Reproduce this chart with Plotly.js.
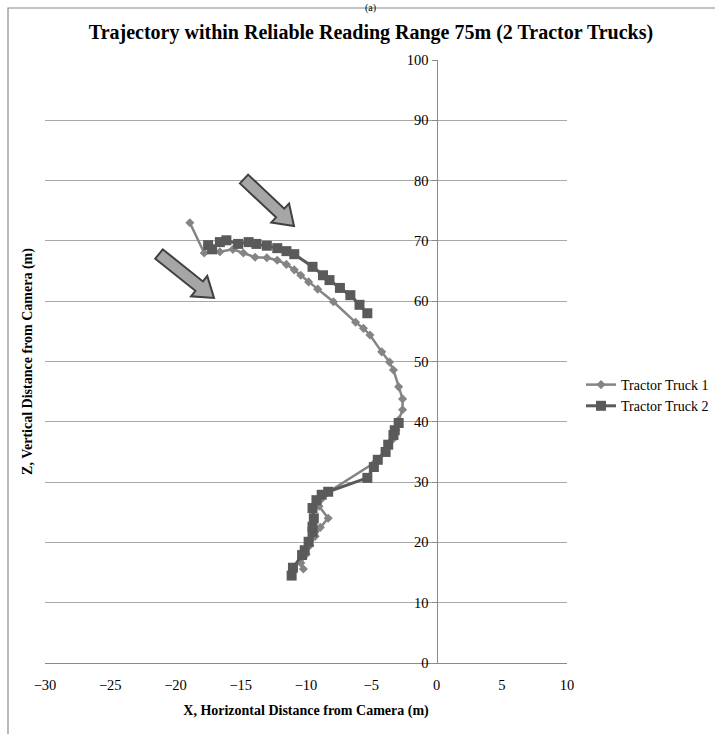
<!DOCTYPE html>
<html><head><meta charset="utf-8">
<script src="https://cdn.plot.ly/plotly-3.0.1.min.js"></script>
<style>html,body{margin:0;padding:0;background:#fff}#chart{width:715px;height:734px}</style>
</head><body><div id="chart"></div>
<script>
// ---- data ----
const seriesNames = ['Tractor Truck 1', 'Tractor Truck 2'];
const truck1X = [-18.9,-17.8,-16.6,-15.6,-14.8,-13.9,-13.0,-12.2,-11.5,-10.9,-10.4,-9.8,-9.1,-7.9,-6.2,-5.6,-5.1,-4.2,-3.6,-3.3,-2.9,-2.6,-2.6,-2.9,-3.1,-3.4,-3.9,-4.7,-8.4,-8.9,-9.0,-8.3,-8.9,-9.3,-9.7,-10.0,-10.4,-10.2];
const truck1Z = [73.0,68.0,68.2,68.6,68.0,67.3,67.2,66.8,66.1,65.2,64.3,63.2,62.0,59.9,56.5,55.5,54.4,51.6,49.9,48.6,45.8,43.8,42.0,40.3,38.6,37.0,35.4,33.3,28.2,27.0,26.0,24.0,22.5,21.0,19.5,18.0,16.6,15.6];
const truck2X = [-17.5,-17.2,-16.6,-16.1,-15.2,-14.4,-13.8,-13.0,-12.2,-11.5,-10.9,-9.5,-8.7,-8.2,-7.4,-6.6,-5.9,-5.3,null,-2.9,-3.2,-3.3,-3.7,-3.9,-4.5,-4.8,-5.3,-8.3,-8.8,-9.2,-9.5,-9.4,-9.5,-9.5,-9.8,-10.1,-10.3,-11.0,-11.1];
const truck2Z = [69.3,68.6,69.8,70.1,69.5,69.8,69.5,69.2,68.8,68.3,67.8,65.7,64.3,63.5,62.2,61.0,59.4,58.0,null,39.8,38.6,37.8,36.2,35.0,33.7,32.5,30.7,28.4,27.9,27.0,25.7,24.0,22.6,21.7,20.1,18.7,17.9,15.8,14.5];
const xTickVals = [-30,-25,-20,-15,-10,-5,0,5,10];
const zTickVals = [0,10,20,30,40,50,60,70,80,90,100];

// ---- layout geometry (pixels) ----
const W = 715, H = 734, PL = 45, PR = 567, PT = 60, PB = 663;
const px2paperX = p => (p - PL) / (PR - PL);
const px2paperY = p => (PB - p) / (PB - PT);
const xRange = [-30, 10];
const yAxisPos = (0 - xRange[0]) / (xRange[1] - xRange[0]);

// decorative block arrows (pixel geometry)
const arrowSpecs = [
  {tail: [244, 179], tip: [294, 226]},
  {tail: [159, 254], tip: [214, 298]}
];
function arrowPath(a) {
  const [tx, ty] = a.tail, [qx, qy] = a.tip;
  const dx = qx - tx, dy = qy - ty, len = Math.hypot(dx, dy);
  const ux = dx / len, uy = dy / len, nx = -uy, ny = ux;
  const w = 6, h = 13, L = 19;
  const bx = qx - ux * L, by = qy - uy * L;
  const pts = [
    [tx + nx * w, ty + ny * w], [bx + nx * w, by + ny * w], [bx + nx * h, by + ny * h],
    [qx, qy], [bx - nx * h, by - ny * h], [bx - nx * w, by - ny * w], [tx - nx * w, ty - ny * w]
  ];
  return 'M' + pts.map(p => px2paperX(p[0]).toFixed(5) + ',' + px2paperY(p[1]).toFixed(5)).join(' L') + ' Z';
}

const serif = 'Liberation Serif, Times New Roman, serif';

const traces = [
  {x: truck1X, y: truck1Z, name: seriesNames[0], type: 'scatter', mode: 'lines+markers',
   line: {color: '#848484', width: 2.5}, marker: {symbol: 'diamond', size: 7, color: '#848484'},
   connectgaps: false},
  {x: truck2X, y: truck2Z, name: seriesNames[1], type: 'scatter', mode: 'lines+markers',
   line: {color: '#5a5a5a', width: 3}, marker: {symbol: 'square', size: 10, color: '#5a5a5a'},
   connectgaps: false},
  {x: [], y: [], yaxis: 'y2', type: 'scatter', mode: 'markers', showlegend: false, hoverinfo: 'skip'}
];

const shapes = [
  {type: 'rect', xref: 'paper', yref: 'paper', x0: px2paperX(8), x1: px2paperX(W + 20),
   y0: px2paperY(H + 20), y1: px2paperY(8), line: {color: '#8a8a8a', width: 1.2}, fillcolor: 'rgba(0,0,0,0)', layer: 'below'}
].concat(arrowSpecs.map(a => ({
  type: 'path', xref: 'paper', yref: 'paper', path: arrowPath(a),
  fillcolor: '#a6a6a6', line: {color: '#404040', width: 2}, layer: 'above'
})));

const layout = {
  width: W, height: H,
  margin: {l: PL, r: W - PR, t: PT, b: H - PB, pad: 0, autoexpand: false},
  paper_bgcolor: '#ffffff', plot_bgcolor: '#ffffff',
  font: {family: serif, color: '#000000', size: 14},
  title: {text: '<b>Trajectory within Reliable Reading Range 75m (2 Tractor Trucks)</b>',
    font: {family: serif, size: 20, color: '#000000'},
    x: 371 / W, xanchor: 'center', y: 1 - 32 / H, yanchor: 'middle', xref: 'container', yref: 'container'},
  xaxis: {range: xRange, tickvals: xTickVals, showgrid: false, zeroline: false,
    showline: true, linecolor: '#8a8a8a', linewidth: 1,
    ticks: 'outside', ticklen: 9, tickcolor: 'rgba(0,0,0,0)',
    tickfont: {family: serif, size: 14.5, color: '#000000'},
    title: {text: '<b>X, Horizontal Distance from Camera (m)</b>', font: {family: serif, size: 14, color: '#000000'}, standoff: 12}},
  yaxis: {range: [0, 100], tickvals: zTickVals, showgrid: true, gridcolor: '#a8a8a8', gridwidth: 1,
    zeroline: false, showline: false, showticklabels: false, ticks: '',
    title: {text: '<b>Z, Vertical Distance from Camera (m)</b>', font: {family: serif, size: 14, color: '#000000'}, standoff: 8}},
  yaxis2: {overlaying: 'y', anchor: 'free', position: yAxisPos, side: 'left', range: [0, 100],
    tickvals: zTickVals, showgrid: false, zeroline: false, showline: true, linecolor: '#8a8a8a', linewidth: 1,
    ticks: 'outside', ticklen: 5, tickcolor: '#8a8a8a',
    tickfont: {family: serif, size: 14.5, color: '#000000'}},
  legend: {x: px2paperX(581), y: px2paperY(369), xanchor: 'left', yanchor: 'top',
    font: {family: serif, size: 14, color: '#000000'}, bgcolor: 'rgba(0,0,0,0)', tracegroupgap: 0},
  showlegend: true,
  shapes: shapes,
  annotations: [
    {text: '(a)', xref: 'paper', yref: 'paper', x: px2paperX(370), y: px2paperY(0), xanchor: 'center', yanchor: 'top',
     showarrow: false, font: {family: serif, size: 10, color: '#000000'}}
  ]
};

Plotly.newPlot('chart', traces, layout, {displayModeBar: false, staticPlot: true});
</script>
</body></html>
